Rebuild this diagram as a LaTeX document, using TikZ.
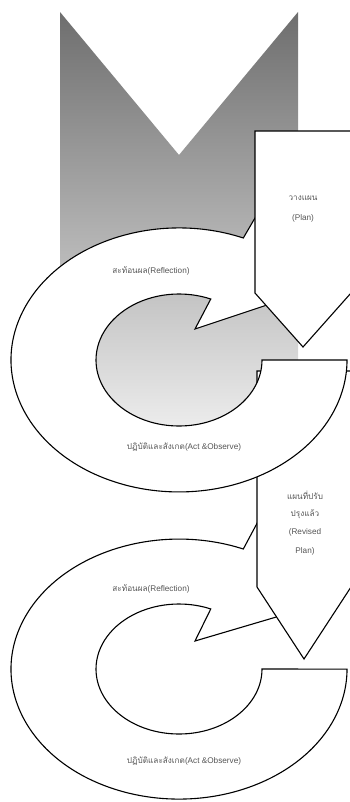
\documentclass[tikz,border=0pt]{standalone}
\usepackage{fontspec}
\setmainfont{Liberation Sans}
\newfontfamily\thaifont[Script=Thai]{Loma}
\newcommand{\thx}[1]{{\thaifont #1}}
\definecolor{gtop}{HTML}{6E6E6E}
\definecolor{gbot}{HTML}{EDEDED}
\definecolor{txt}{HTML}{555555}
\begin{document}
\begin{tikzpicture}[x=1pt,y=-1pt,line width=1.1pt,line join=miter,
  shapebox/.style={draw=black,fill=white},
  lbl/.style={text=txt,font=\fontsize{8.2}{10}\selectfont,inner sep=0pt,align=center}]
\useasboundingbox (0,0) rectangle (349,802);
% grey chevron
\shade[top color=gtop,bottom color=gbot] (60,12) -- (179,155) -- (298,12) -- (298,430) -- (60,430) -- cycle;
% second cycle arrow
\path[shapebox] (243.3,549) arc[start angle=-67.5,end angle=-360,x radius=168,y radius=130]
  -- (262,669) arc[start angle=0,end angle=292.5,x radius=83,y radius=65]
  -- (195,641) -- (300,610) -- (262,514) -- cycle;
% revised plan pentagon
\path[shapebox] (257,371) -- (351,371) -- (351,587) -- (304,659) -- (257,587) -- cycle;
% first cycle arrow
\path[shapebox] (243.3,238) arc[start angle=-67.5,end angle=-360,x radius=168,y radius=132]
  -- (262,360) arc[start angle=0,end angle=292.5,x radius=83,y radius=66]
  -- (195,329) -- (300,294) -- (262,206) -- cycle;
% plan pentagon
\path[shapebox] (255,131) -- (351,131) -- (351,293) -- (303,347) -- (255,293) -- cycle;
% labels
\node[lbl] (plan1) at (303,198) {\thx{วางแผน}};
\node[lbl] (plan2) at (303,218) {(Plan)};
\node[lbl] (refl1) at (151,271) {\thx{สะท้อนผล}(Reflection)};
\node[lbl] (act1) at (184,447) {\thx{ปฏิบัติและสังเกต}(Act \&Observe)};
\node[lbl] (rev1) at (305,495) {\thx{แผนที่ปรับ}};
\node[lbl] (rev2) at (305,514) {\thx{ปรุงแล้ว}};
\node[lbl] (rev3) at (305,532) {(Revised};
\node[lbl] (rev4) at (305,551) {Plan)};
\node[lbl] (refl2) at (151,589) {\thx{สะท้อนผล}(Reflection)};
\node[lbl] (act2) at (184,761) {\thx{ปฏิบัติและสังเกต}(Act \&Observe)};
\end{tikzpicture}
\end{document}
